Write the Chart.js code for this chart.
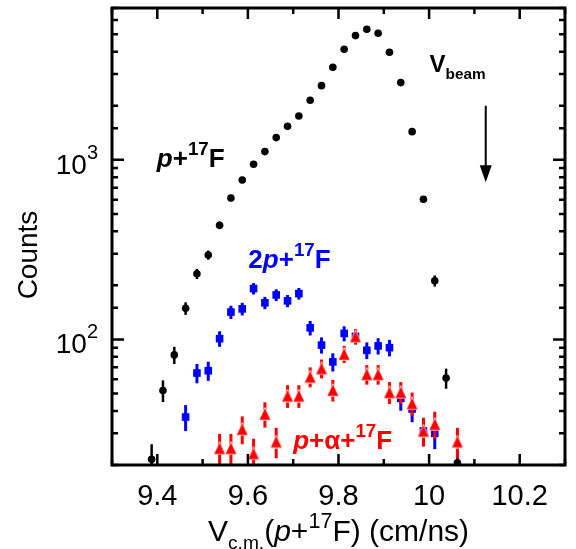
<!DOCTYPE html>
<html>
<head>
<meta charset="utf-8">
<script src="https://cdn.jsdelivr.net/npm/chart.js@4.4.0/dist/chart.umd.min.js"></script>
<style>
  html, body { margin: 0; padding: 0; background: #fff; overflow: hidden; }
  #c { position: absolute; left: 0; top: 0; }
</style>
</head>
<body>
<canvas id="c" width="580" height="549"></canvas>
<script>
// p + 17F
const binsP = [9.3875, 9.4125, 9.4375, 9.4625, 9.4875, 9.5125, 9.5375, 9.5625, 9.5875, 9.6125,
  9.6375, 9.6625, 9.6875, 9.7125, 9.7375, 9.7625, 9.7875, 9.8125, 9.8375, 9.8625,
  9.8875, 9.9125, 9.9375, 9.9625, 9.9875, 10.0125, 10.0375, 10.0625];
const countsP = [21.5, 52, 82, 149, 232, 295, 432, 613, 772, 945,
  1111, 1329, 1538, 1754, 2146, 2588, 3275, 4126, 4913, 5333,
  5064, 3971, 2690, 1435, 603, 212, 61, 20.6];
const errP = [4.6, 7.2, 9, 12, 15, 17, 21, 25, 28, 31,
  33, 36, 39, 42, 46, 51, 57, 64, 70, 73,
  71, 63, 52, 38, 25, 15, 7.8, 4.5];

// 2p + 17F
const binsTwoP = [9.4625, 9.4875, 9.5125, 9.5375, 9.5625, 9.5875, 9.6125, 9.6375, 9.6625, 9.6875,
  9.7125, 9.7375, 9.7625, 9.7875, 9.8125, 9.8375, 9.8625, 9.8875, 9.9125, 9.9375,
  9.9625, 9.9875, 10.0125];
const countsTwoP = [37, 65, 67, 101, 142, 148, 192, 160, 177, 164,
  180, 116, 93, 75, 108, 104, 87, 92, 90, 47,
  41, 31, 30];
const errTwoP = [6.1, 8, 8.2, 10, 12, 12, 14, 12.6, 13.3, 12.8,
  13.4, 10.8, 9.6, 8.7, 10.4, 10.2, 9.3, 9.6, 9.5, 6.9,
  6.4, 5.6, 5.5];

// p + alpha + 17F
const binsAlpha = [9.5375, 9.5625, 9.5875, 9.6125, 9.6375, 9.6625, 9.6875, 9.7125, 9.7375, 9.7625,
  9.7875, 9.8125, 9.8375, 9.8625, 9.8875, 9.9125, 9.9375, 9.9625, 9.9875, 10.0125,
  10.0625];
const countsAlpha = [24.8, 24.8, 31.7, 23.2, 38.5, 27, 48.6, 48.6, 62, 69,
  52.3, 83, 104, 64, 64, 50.8, 50.8, 44, 31, 33.8,
  27];
const errAlpha = [5, 5, 5.6, 4.8, 6.2, 5.2, 7, 7, 7.9, 8.3,
  7.2, 9.1, 10.2, 8, 8, 7.1, 7.1, 6.6, 5.6, 5.8,
  5.2];

const xTickValues = [9.4, 9.6, 9.8, 10, 10.2];
const xTickLabels = ['9.4', '9.6', '9.8', '10', '10.2'];
const yLabelValues = [100, 1000];
const yLabelExps = ['2', '3'];

const beamV = 10.125;
const beamArrow = [2000, 750];

const FONT = '"Liberation Sans", Arial, Helvetica, sans-serif';

function toPoints(xs, ys) {
  return xs.map((x, i) => ({ x: x, y: ys[i] }));
}

// triangle marker, a bit taller than wide
function triangleMarker(color) {
  const c = document.createElement('canvas');
  c.width = 14; c.height = 14;
  const g = c.getContext('2d');
  g.beginPath();
  g.moveTo(7, 0.6); g.lineTo(13, 13.2); g.lineTo(1, 13.2);
  g.closePath();
  g.fillStyle = color;
  g.fill();
  g.strokeStyle = '#fff';
  g.lineWidth = 0.8;
  g.stroke();
  return c;
}

// draws a run of text pieces (italic / superscript / subscript), returns its width
function drawRich(ctx, x, y, parts, size, weight, color, measureOnly) {
  ctx.save();
  ctx.fillStyle = color;
  ctx.textBaseline = 'alphabetic';
  ctx.textAlign = 'left';
  let cx = x;
  parts.forEach(p => {
    let fs = size, dy = 0;
    if (p.s === 'sup') { fs = size * 0.72; dy = -size * 0.45; }
    if (p.s === 'sub') { fs = size * 0.64; dy = size * 0.28; }
    ctx.font = (p.i ? 'italic ' : '') + weight + ' ' + fs + 'px ' + FONT;
    if (!measureOnly) ctx.fillText(p.t, cx, y + dy);
    cx += ctx.measureText(p.t).width;
  });
  ctx.restore();
  return cx - x;
}

const labelP = [{ t: 'p', i: true }, { t: '+' }, { t: '17', s: 'sup' }, { t: 'F' }];
const labelTwoP = [{ t: '2' }, { t: 'p', i: true }, { t: '+' }, { t: '17', s: 'sup' }, { t: 'F' }];
const labelAlpha = [{ t: 'p', i: true }, { t: '+α+' }, { t: '17', s: 'sup' }, { t: 'F' }];
const labelBeam = [{ t: 'V' }, { t: 'beam', s: 'sub' }];
const titleX = [{ t: 'V' }, { t: 'c.m.', s: 'sub' }, { t: '(' }, { t: 'p', i: true }, { t: '+' },
  { t: '17', s: 'sup' }, { t: 'F) (cm/ns)' }];

const errorBars = {
  id: 'errorBars',
  beforeDatasetDraw(chart, args) {
    const ds = chart.data.datasets[args.index];
    if (!ds.errors) return;
    const { ctx, chartArea: a, scales: { x, y } } = chart;
    ctx.save();
    ctx.beginPath();
    ctx.rect(a.left, a.top, a.right - a.left, a.bottom - a.top);
    ctx.clip();
    ctx.strokeStyle = ds.errorColor;
    ctx.lineWidth = ds.errorWidth;
    ds.data.forEach((pt, i) => {
      const e = ds.errors[i];
      const px = x.getPixelForValue(pt.x);
      ctx.beginPath();
      ctx.moveTo(px, y.getPixelForValue(pt.y + e));
      ctx.lineTo(px, y.getPixelForValue(Math.max(pt.y - e, 1)));
      ctx.stroke();
    });
    ctx.restore();
  }
};

const frame = {
  id: 'frame',
  afterDraw(chart) {
    const { ctx, chartArea: a, scales: { x, y } } = chart;
    ctx.save();
    ctx.strokeStyle = '#000';
    ctx.lineWidth = 2.5;
    ctx.beginPath();
    x.ticks.forEach(t => {
      const px = x.getPixelForValue(t.value);
      const len = t.label ? 11 : 6;
      ctx.moveTo(px, a.bottom); ctx.lineTo(px, a.bottom - len);
      ctx.moveTo(px, a.top); ctx.lineTo(px, a.top + len);
    });
    y.ticks.forEach(t => {
      const py = y.getPixelForValue(t.value);
      const l = Math.log10(t.value);
      const len = Math.abs(l - Math.round(l)) < 1e-6 ? 12 : 6;
      ctx.moveTo(a.left, py); ctx.lineTo(a.left + len, py);
      ctx.moveTo(a.right, py); ctx.lineTo(a.right - len, py);
    });
    ctx.stroke();
    ctx.lineWidth = 3;
    ctx.strokeRect(a.left, a.top, a.right - a.left, a.bottom - a.top);

    // y tick labels 10^n
    yLabelValues.forEach((v, i) => {
      const py = y.getPixelForValue(v);
      const base = [{ t: '10' }];
      const w1 = drawRich(ctx, 0, 0, base, 28, 'normal', '#000', true);
      ctx.font = '20px ' + FONT;
      const w2 = ctx.measureText(yLabelExps[i]).width;
      const x0 = a.left - 14 - w1 - w2;
      drawRich(ctx, x0, py + 14, base, 28, 'normal', '#000');
      ctx.fillStyle = '#000';
      ctx.textBaseline = 'alphabetic';
      ctx.fillText(yLabelExps[i], x0 + w1, py + 14 - 15);
    });

    // axis titles
    const wT = drawRich(ctx, 0, 0, titleX, 30, 'normal', '#000', true);
    drawRich(ctx, (a.left + a.right) / 2 - wT / 2, 541, titleX, 30, 'normal', '#000');
    ctx.save();
    ctx.translate(29, 255);
    ctx.rotate(-Math.PI / 2);
    ctx.font = '28px ' + FONT;
    ctx.fillStyle = '#000';
    ctx.textAlign = 'center';
    ctx.textBaseline = 'middle';
    ctx.fillText('Counts', 0, 0);
    ctx.restore();

    // series labels
    drawRich(ctx, x.getPixelForValue(9.399), y.getPixelForValue(912), labelP, 26, 'bold', '#000');
    drawRich(ctx, x.getPixelForValue(9.601), y.getPixelForValue(250), labelTwoP, 26, 'bold', '#0000ff');
    drawRich(ctx, x.getPixelForValue(9.70), y.getPixelForValue(24.5), labelAlpha, 26, 'bold', '#ff0000');
    drawRich(ctx, x.getPixelForValue(10.001), y.getPixelForValue(3083), labelBeam, 24, 'bold', '#000');

    // beam velocity arrow
    const ax = x.getPixelForValue(beamV);
    const y0 = y.getPixelForValue(beamArrow[0]);
    const y1 = y.getPixelForValue(beamArrow[1]);
    ctx.lineWidth = 2;
    ctx.beginPath();
    ctx.moveTo(ax, y0); ctx.lineTo(ax, y1 - 14);
    ctx.stroke();
    ctx.fillStyle = '#000';
    ctx.beginPath();
    ctx.moveTo(ax - 6, y1 - 17); ctx.lineTo(ax + 6, y1 - 17); ctx.lineTo(ax, y1);
    ctx.closePath();
    ctx.fill();
    ctx.restore();
  }
};

new Chart(document.getElementById('c'), {
  type: 'scatter',
  data: {
    datasets: [
      {
        label: 'p+α+17F',
        data: toPoints(binsAlpha, countsAlpha),
        errors: errAlpha, errorColor: '#ff0000', errorWidth: 3,
        order: 0,
        pointStyle: triangleMarker('#ff0000'), pointRadius: 7
      },
      {
        label: '2p+17F',
        data: toPoints(binsTwoP, countsTwoP),
        errors: errTwoP, errorColor: '#0000ff', errorWidth: 3,
        order: 1,
        pointStyle: 'rect', pointRadius: 5.4,
        pointBackgroundColor: '#0000ff', pointBorderColor: '#0000ff', pointBorderWidth: 0
      },
      {
        label: 'p+17F',
        data: toPoints(binsP, countsP),
        errors: errP, errorColor: '#000000', errorWidth: 2.5,
        order: 2,
        pointStyle: 'circle', pointRadius: 3.8,
        pointBackgroundColor: '#000000', pointBorderColor: '#000000', pointBorderWidth: 0
      }
    ]
  },
  options: {
    responsive: false,
    animation: false,
    events: [],
    layout: { padding: { top: 8, right: 3, left: 0, bottom: 0 } },
    plugins: { legend: { display: false }, tooltip: { enabled: false } },
    scales: {
      x: {
        type: 'linear', min: 9.3, max: 10.3,
        grid: { display: false, drawTicks: false },
        border: { display: false },
        ticks: {
          stepSize: 0.1, autoSkip: false, maxRotation: 0, padding: 15,
          color: '#000', font: { family: FONT, size: 29 },
          callback: v => {
            const k = xTickValues.findIndex(t => Math.abs(t - v) < 1e-6);
            return k >= 0 ? xTickLabels[k] : '';
          }
        },
        afterFit: s => { s.height = 84; }
      },
      y: {
        type: 'logarithmic', min: 20, max: 7000,
        grid: { display: false, drawTicks: false },
        border: { display: false },
        ticks: { display: false },
        afterFit: s => { s.width = 112; }
      }
    }
  },
  plugins: [errorBars, frame]
});
</script>
</body>
</html>
